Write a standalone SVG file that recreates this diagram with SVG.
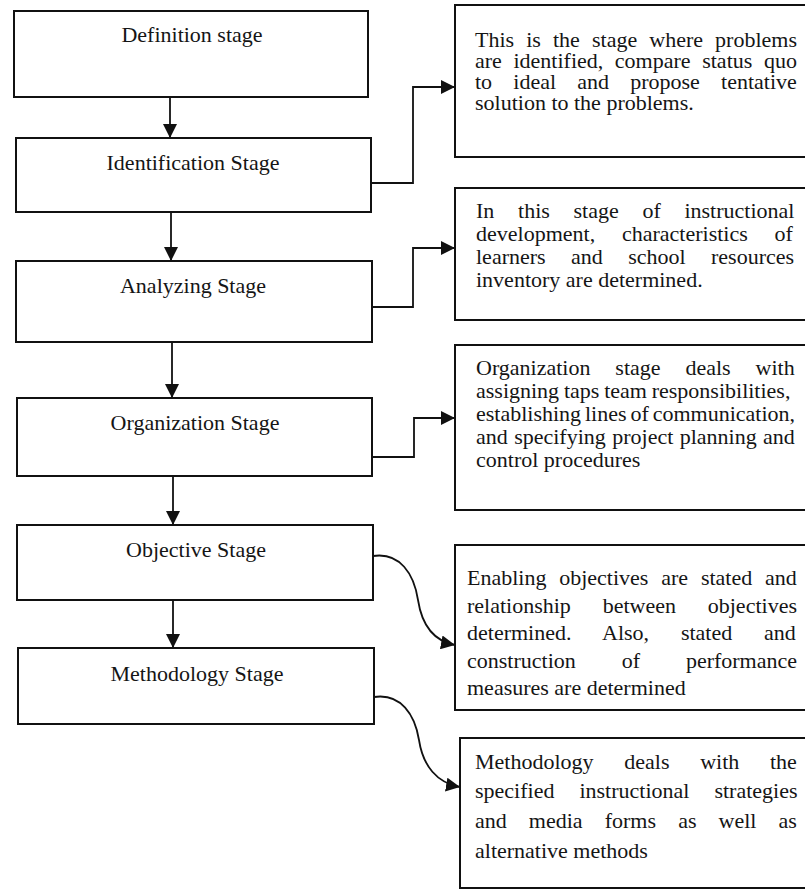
<svg xmlns="http://www.w3.org/2000/svg" width="805" height="890" viewBox="0 0 805 890">
  <style>
    .box { fill: #ffffff; stroke: #111111; stroke-width: 2; }
    .stage { font-family: "Liberation Serif", "Times New Roman", serif; font-size: 22px; fill: #151515; text-anchor: middle; }
    .desc { font-family: "Liberation Serif", "Times New Roman", serif; font-size: 22px; fill: #151515; }
    .link { fill: none; stroke: #111111; stroke-width: 1.8; }
  </style>
  <defs>
    <marker id="head" viewBox="0 0 14 14" refX="14" refY="7" markerWidth="14" markerHeight="14" markerUnits="userSpaceOnUse" orient="auto">
      <path d="M0,0 L14,7 L0,14 Z" fill="#111111"/>
    </marker>
  </defs>

  <rect width="805" height="890" fill="#ffffff"/>

  <!-- stage boxes, left column -->
  <g id="definition">
    <rect class="box" x="14" y="11" width="354" height="86"/>
    <text class="stage" x="192" y="42">Definition stage</text>
  </g>
  <g id="identification">
    <rect class="box" x="16" y="138" width="355" height="74"/>
    <text class="stage" x="193" y="170">Identification Stage</text>
  </g>
  <g id="analyzing">
    <rect class="box" x="16" y="261" width="356" height="81"/>
    <text class="stage" x="193" y="293">Analyzing Stage</text>
  </g>
  <g id="organization">
    <rect class="box" x="17" y="398" width="355" height="78"/>
    <text class="stage" x="195" y="430">Organization Stage</text>
  </g>
  <g id="objective">
    <rect class="box" x="17" y="525" width="356" height="75"/>
    <text class="stage" x="196" y="557">Objective Stage</text>
  </g>
  <g id="methodology">
    <rect class="box" x="18" y="648" width="356" height="76"/>
    <text class="stage" x="197" y="681">Methodology Stage</text>
  </g>

  <!-- description boxes, right column (run off the right edge) -->
  <g id="desc-identification">
    <rect class="box" x="455" y="5" width="360" height="152"/>
    <text class="desc" x="475" y="47" word-spacing="6.6">This is the stage where problems</text>
    <text class="desc" x="475" y="68" word-spacing="6.1">are identified, compare status quo</text>
    <text class="desc" x="475" y="89" word-spacing="15.7">to ideal and propose tentative</text>
    <text class="desc" x="475" y="110">solution to the problems.</text>
  </g>
  <g id="desc-analyzing">
    <rect class="box" x="455" y="188" width="360" height="132"/>
    <text class="desc" x="476" y="218" word-spacing="18.2">In this stage of instructional</text>
    <text class="desc" x="476" y="241" word-spacing="21.3">development, characteristics of</text>
    <text class="desc" x="476" y="264" word-spacing="19.9">learners and school resources</text>
    <text class="desc" x="476" y="287">inventory are determined.</text>
  </g>
  <g id="desc-organization">
    <rect class="box" x="455" y="345" width="360" height="165"/>
    <text class="desc" x="476" y="375" word-spacing="19.4">Organization stage deals with</text>
    <text class="desc" x="476" y="398" word-spacing="-0.7">assigning taps team responsibilities,</text>
    <text class="desc" x="476" y="421" word-spacing="-1.6">establishing lines of communication,</text>
    <text class="desc" x="476" y="444" word-spacing="0.9">and specifying project planning and</text>
    <text class="desc" x="476" y="467">control procedures</text>
  </g>
  <g id="desc-objective">
    <rect class="box" x="455" y="545" width="360" height="165"/>
    <text class="desc" x="467" y="585" word-spacing="7.3">Enabling objectives are stated and</text>
    <text class="desc" x="467" y="613" word-spacing="26.3">relationship between objectives</text>
    <text class="desc" x="467" y="640" word-spacing="26.3">determined. Also, stated and</text>
    <text class="desc" x="467" y="668" word-spacing="40.4">construction of performance</text>
    <text class="desc" x="467" y="695">measures are determined</text>
  </g>
  <g id="desc-methodology">
    <rect class="box" x="460" y="738" width="360" height="150"/>
    <text class="desc" x="475" y="769" word-spacing="25.2">Methodology deals with the</text>
    <text class="desc" x="475" y="798" word-spacing="19.5">specified instructional strategies</text>
    <text class="desc" x="475" y="828" word-spacing="16.6">and media forms as well as</text>
    <text class="desc" x="475" y="858">alternative methods</text>
  </g>

  <!-- connectors -->
  <g id="connectors">
    <path class="link" d="M170,97 V138" marker-end="url(#head)"/>
    <path class="link" d="M171,212 V261" marker-end="url(#head)"/>
    <path class="link" d="M172,342 V398" marker-end="url(#head)"/>
    <path class="link" d="M173,476 V525" marker-end="url(#head)"/>
    <path class="link" d="M173,600 V648" marker-end="url(#head)"/>

    <path class="link" d="M371,183 H413 V87 H455" marker-end="url(#head)"/>
    <path class="link" d="M372,307 H413 V248 H455" marker-end="url(#head)"/>
    <path class="link" d="M372,457 H414 V418 H455" marker-end="url(#head)"/>

    <path class="link" d="M373,556 C400,552 414,574 418,600 C422,626 434,641 455,645" marker-end="url(#head)"/>
    <path class="link" d="M374,697 C401,693 415,715 419,740 C423,766 437,783 460,787" marker-end="url(#head)"/>
  </g>
</svg>
